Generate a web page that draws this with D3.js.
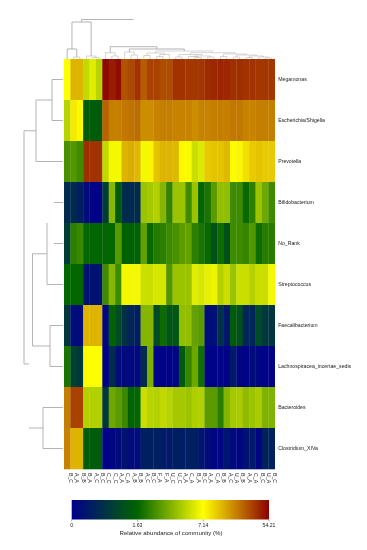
<!DOCTYPE html>
<html>
<head>
<meta charset="utf-8">
<script src="https://cdn.jsdelivr.net/npm/d3@7"></script>
<style>
  html, body { margin: 0; padding: 0; background: #fff; }
  svg { display: block; font-family: "Liberation Sans", Arial, sans-serif; }
</style>
</head>
<body>
<div id="chart"></div>
<script>
// taxa, top to bottom
const taxa = ["Megamonas", "Escherichia/Shigella", "Prevotella", "Bifidobacterium", "No_Rank",
  "Streptococcus", "Faecalibacterium", "Lachnospiracea_incertae_sedis", "Bacteroides", "Clostridium_XIVa"]

// sample labels, left to right (hard to read in the source, best guess)
const samples = ["B_C", "A_A", "B_B", "B_A", "A_C", "B_C", "C_C", "C_C", "A_A", "C_A", "A_B", "B_B", "A_C", "B_C", "F_A", "F_A",
  "U_C", "U_C", "A_A", "C_A", "B_A", "B_C", "A_A", "C_A", "B_B", "A_C", "U_A", "B_B", "A_A", "C_A", "B_C", "U_A", "B_C"]

// relative abundance (%), one row per taxon
const megamonas = [7.1, 21, 21, 5.8, 6.5, 5.6, 53, 49, 52, 39, 41, 45, 37, 42, 42, 40, 40, 45, 45, 44, 44, 44.5, 46, 47, 47.5, 47, 45.5, 45.5, 45, 45, 44, 44, 44]
const escherichia = [5.6, 11, 8.5, 1.5, 1.5, 1.5, 36, 31, 31, 32, 33, 34, 28, 28, 30, 31, 31, 30, 30, 30, 28, 30, 30, 31, 31, 31, 32, 32, 30, 30, 31, 31, 31]
const prevotella = [3.2, 3.4, 3, 45.5, 45, 45, 5.8, 6.9, 6.9, 21, 22, 20, 6.9, 9, 18, 21, 21, 20, 8, 7, 6, 6.4, 17, 18, 18, 20, 7.6, 9, 13, 17, 18, 17, 17]
const bifidobacterium = [0.7, 0.7, 0.5, 0.2, 0.05, 0.05, 1, 4.6, 1.5, 0.7, 0.7, 0.7, 5, 5.2, 5.5, 4.5, 2.7, 5, 5, 3, 5, 1.7, 2.2, 3.6, 4.8, 4.8, 3, 3, 1.8, 2.6, 5, 4, 3]
const noRank = [1, 2.6, 2.9, 1.7, 1.65, 1.65, 1.7, 1.7, 3.5, 1.6, 1.6, 1.6, 3.8, 1.8, 2.4, 2.6, 3, 3.2, 3.6, 3.8, 2.6, 2.2, 1.8, 1.3, 1.9, 1.3, 3, 3, 2.8, 3.4, 1.9, 2.5, 2.5]
const streptococcus = [1.7, 1.7, 1.7, 0.3, 0.3, 0.3, 3, 4.6, 3, 6.9, 6.9, 6.9, 6, 6, 6.3, 6.2, 3.4, 5, 5, 5, 6.5, 6.3, 6.6, 6.8, 5.5, 6, 5, 6, 6, 5.5, 6, 6, 6.9]
const faecalibacterium = [0.9, 0.2, 0.2, 21, 21, 21, 0.1, 1.6, 1.2, 0.8, 0.6, 0.5, 4.5, 4.5, 1.2, 1.9, 1.4, 1.4, 4.8, 4.8, 3.8, 3.6, 0.2, 0.25, 0.8, 0.35, 1.5, 1.3, 0.6, 0.6, 1.2, 0.9, 0.9]
const lachnospiracea = [2.2, 1.1, 0.9, 7.5, 7.1, 7.1, 0.05, 0.7, 0.2, 0.15, 0.15, 0.15, 0.7, 4.3, 0.05, 0.05, 0.05, 0.1, 1.5, 2.8, 4, 2, 0.05, 0.05, 0.05, 0.05, 0.4, 0.1, 0.05, 0.2, 0.1, 0.05, 0.05]
const bacteroides = [31, 42, 42, 5.5, 5.5, 5.5, 0.9, 4, 3.6, 2.9, 1.6, 1.7, 6, 5.6, 5.5, 5.8, 5.6, 5.2, 5.2, 5, 5.4, 5.5, 3.6, 3.6, 2.5, 4.5, 5.2, 5.3, 4.7, 5, 5.3, 4.4, 4.4]
const clostridium = [30, 21, 21, 1.5, 1.5, 1.5, 0.05, 0.1, 0.2, 0.3, 0.2, 0.2, 0.5, 0.5, 0.5, 0.45, 0.4, 0.5, 0.45, 0.5, 0.5, 0.35, 0.2, 0.1, 0.1, 0.35, 0.15, 0.1, 0.3, 0.4, 0.1, 0.55, 0.55]
const abundance = [megamonas, escherichia, prevotella, bifidobacterium, noRank, streptococcus, faecalibacterium, lachnospiracea, bacteroides, clostridium]

const colorTicks = [0, 1.63, 7.14, 54.21]

// cluster trees, h = merge height, leaves are row/column indexes
const colTree = { h: 39.5, c: [
  { h: 37, c: [
    { h: 10, c: [0, { h: 2, c: [1, 2] }] },
    { h: 3, c: [3, { h: 1.5, c: [4, 5] }] }
  ] },
  { h: 12.3, stem: false, c: [
    { h: 6.3, c: [6, { h: 3, c: [7, 8] }] },
    { h: 10, c: [
      { h: 7, c: [9, { h: 4, c: [10, 11] }] },
      { h: 8, c: [
        { h: 6, c: [
          { h: 3.5, c: [12, 13] },
          { h: 4.5, c: [{ h: 2.5, c: [14, 15] }, 16] }
        ] },
        { h: 6.3, c: [
          { h: 4.5, c: [
            { h: 2, c: [17, 18] },
            { h: 3, c: [{ h: 2.5, c: [19, { h: 1.5, c: [20, 21] }] }, { h: 2, c: [22, 23] }] }
          ] },
          { h: 5, c: [
            { h: 2.5, c: [24, 25] },
            { h: 4, c: [
              { h: 2, c: [26, 27] },
              { h: 3, c: [{ h: 1.5, c: [28, 29] }, { h: 2, c: [30, { h: 1, c: [31, 32] }] }] }
            ] }
          ] }
        ] }
      ] }
    ] }
  ] }
] }

const rowTree = { h: 39, c: [
  { h: 27, c: [{ h: 11, c: [0, 1] }, 2] },
  { h: 34, bar: false, c: [
    { h: 30.5, stem: false, c: [
      { h: 16, c: [{ h: 9, bar: false, stem: false, c: [3, 4] }, 5] },
      { h: 13, c: [6, 7] }
    ] },
    { h: 20, c: [8, 9] }
  ] }
] }

const width = 367
const height = 550
const plot = { left: 64, right: 274.7, top: 59, bottom: 469 }

const svg = d3.select("#chart").append("svg").attr("width", width).attr("height", height)
const g = svg.append("g").style("filter", "blur(0.45px)")

const x = d3.scaleBand().domain(d3.range(samples.length)).range([plot.left, plot.right])
const y = d3.scaleBand().domain(d3.range(taxa.length)).range([plot.top, plot.bottom])

// piecewise: equal colour distance between the labelled ticks
const position = d3.scaleLinear().domain(colorTicks).range([0, 1 / 3, 2 / 3, 1])
const ramp = d3.scaleLinear()
  .domain([0, 1 / 3, 2 / 3, 1])
  .range(["#00008b", "#006400", "#ffff00", "#8b0000"])
const color = (v) => ramp(position(v))

// Heatmap cells
abundance.forEach((row, r) => {
  g.selectAll(null)
    .data(row)
    .enter()
    .append("rect")
    .attr("x", (d, i) => x(i))
    .attr("y", y(r))
    .attr("width", x.bandwidth() + 0.3)
    .attr("height", y.bandwidth() + 0.3)
    .attr("fill", (d) => color(d))
})

// Draws one dendrogram. pos = leaf index to pixel, hpos = height to pixel.
function drawTree(tree, pos, hpos, seg, faintBelow) {
  const root = d3.hierarchy(tree, (d) => (typeof d === "number" ? null : d.c))
  root.eachAfter((n) => {
    n.p = n.children ? d3.mean(n.children, (k) => k.p) : pos(n.data)
    n.hpx = hpos(n.children ? n.data.h : 0)
  })
  const lines = g.append("g").attr("stroke", "#aaa").attr("stroke-width", 0.9).attr("fill", "none")
  root.descendants().forEach((n) => {
    if (!n.children) return
    const op = n.data.h < faintBelow ? 0.55 : 1
    if (n.data.bar !== false) {
      seg(lines, n.children[0].p, n.hpx, n.children[1].p, n.hpx).attr("stroke-opacity", op)
    }
    n.children.forEach((k) => {
      if (k.data.stem !== false) seg(lines, k.p, n.hpx, k.p, k.hpx).attr("stroke-opacity", op)
    })
  })
}

const colH = d3.scaleLinear().domain([0, 39.5]).range([plot.top, 19.5])
const rowH = d3.scaleLinear().domain([0, 39]).range([plot.left - 1, 24])

drawTree(colTree, (i) => x(i) + x.bandwidth() / 2, colH, (s, p1, h1, p2, h2) =>
  s.append("line").attr("x1", p1).attr("y1", h1).attr("x2", p2).attr("y2", h2), 9)
drawTree(rowTree, (i) => y(i) + y.bandwidth() / 2, rowH, (s, p1, h1, p2, h2) =>
  s.append("line").attr("x1", h1).attr("y1", p1).attr("x2", h2).attr("y2", p2), 0)

// Row labels
g.selectAll(null)
  .data(taxa)
  .enter()
  .append("text")
  .attr("x", plot.right + 3.5)
  .attr("y", (d, i) => y(i) + y.bandwidth() / 2)
  .attr("dy", "0.35em")
  .attr("font-size", 5.2)
  .attr("fill", "#222")
  .text((d) => d)

// Column labels
g.selectAll(null)
  .data(samples)
  .enter()
  .append("text")
  .attr("transform", (d, i) => `translate(${x(i) + x.bandwidth() / 2 + 1.8},${plot.bottom + 4}) rotate(90)`)
  .attr("font-size", 5.2)
  .attr("fill", "#222")
  .text((d) => d)

// Colour key
const bar = { left: 71.7, right: 269, top: 500, bottom: 519.5 }
const keyX = d3.scaleLinear().domain([0, 1]).range([bar.left, bar.right])
const grad = svg.append("defs").append("linearGradient").attr("id", "key")
;[0, 1 / 3, 2 / 3, 1].forEach((t) => {
  grad.append("stop").attr("offset", `${t * 100}%`).attr("stop-color", ramp(t))
})
g.append("rect")
  .attr("x", bar.left)
  .attr("y", bar.top)
  .attr("width", bar.right - bar.left)
  .attr("height", bar.bottom - bar.top)
  .attr("fill", "url(#key)")

const keyAxis = g.append("g").attr("transform", `translate(0,${bar.bottom})`)
colorTicks.forEach((v) => {
  const px = keyX(position(v))
  keyAxis.append("line").attr("x1", px).attr("x2", px).attr("y1", 0).attr("y2", 2).attr("stroke", "#777").attr("stroke-width", 0.6)
  keyAxis.append("text")
    .attr("x", px)
    .attr("y", 7.8)
    .attr("text-anchor", "middle")
    .attr("font-size", 5.2)
    .attr("fill", "#222")
    .text(v)
})

g.append("text")
  .attr("x", 171)
  .attr("y", 535)
  .attr("text-anchor", "middle")
  .attr("font-size", 6.1)
  .attr("fill", "#222")
  .text("Relative abundance of community (%)")
</script>
</body>
</html>
